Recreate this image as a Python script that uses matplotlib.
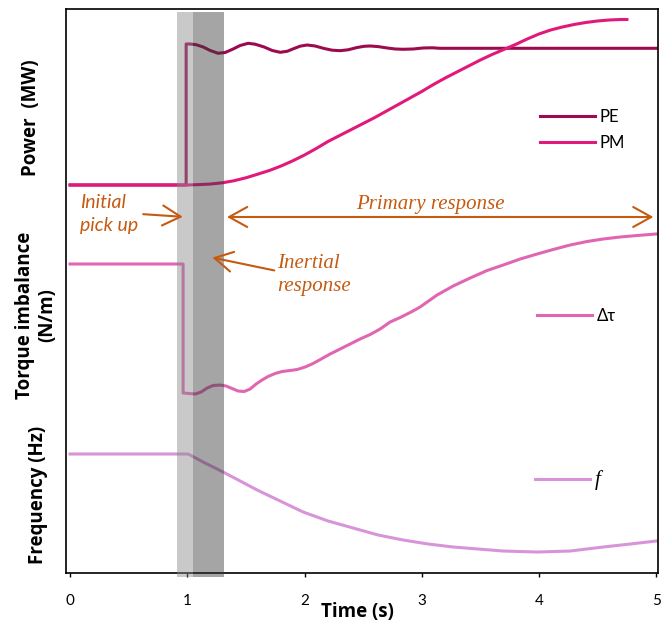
import matplotlib
matplotlib.use("Agg")
import matplotlib.pyplot as plt

plt.rcParams["font.family"] = ["Lato", "DejaVu Sans"]

# Datos (unidades arbitrarias, las tres curvas apiladas en un mismo eje)
t_pe = [0.0, 0.99, 0.99, 1.024, 1.075, 1.135, 1.195, 1.263, 1.323, 1.391, 1.451,
        1.519, 1.578, 1.655, 1.724, 1.792, 1.852, 1.911, 1.962, 2.022, 2.09,
        2.167, 2.235, 2.304, 2.372, 2.449, 2.509, 2.56, 2.628, 2.705, 2.773,
        2.841, 2.927, 3.012, 3.089, 3.157, 3.5, 4.0, 4.5, 5.0]
pe = [388, 388, 529, 529, 528.3, 526, 522.5, 519.7, 520.5, 524, 527.5,
      529.7, 528.8, 526, 522.5, 520.7, 521.7, 524.5, 526.8, 528, 527,
      524.5, 522.8, 522.3, 523.2, 525.5, 526.7, 527, 526.4, 525, 524,
      523.7, 524, 525, 525.2, 524.7, 524.7, 524.7, 524.7, 524.7]

t_pm = [0.0, 1.0, 1.1, 1.2, 1.3, 1.4, 1.5, 1.6, 1.7, 1.8, 1.9, 2.0, 2.1, 2.2,
        2.3, 2.4, 2.5, 2.6, 2.7, 2.8, 2.9, 3.0, 3.1, 3.2, 3.3, 3.4, 3.5, 3.6,
        3.7, 3.8, 3.9, 4.0, 4.1, 4.2, 4.3, 4.4, 4.5, 4.6, 4.7, 4.75]
pm = [388, 388, 388.4, 389, 390.2, 392.3, 395.2, 398.8, 402.5, 407, 412.2,
      418, 424.5, 431.5, 437.5, 443.5, 449.5, 455.5, 462, 468.5, 475, 481.5,
      488.5, 495, 501, 507, 513, 518.5, 523.5, 528.5, 534, 539, 543, 546,
      548.5, 550.5, 552, 553, 553.5, 553.5]

t_tau = [0.0, 0.964, 0.964, 1.067, 1.118, 1.169, 1.220, 1.280, 1.331, 1.382,
         1.433, 1.485, 1.536, 1.587, 1.638, 1.689, 1.749, 1.809, 1.877, 1.937,
         2.005, 2.073, 2.142, 2.218, 2.304, 2.389, 2.474, 2.560, 2.645, 2.730,
         2.816, 2.901, 2.986, 3.131, 3.268, 3.413, 3.558, 3.695, 3.840, 3.985,
         4.121, 4.266, 4.411, 4.548, 4.693, 4.838, 5.0]
tau = [309, 309, 180, 179, 181, 185, 187.5, 188, 187, 184.5,
       182, 181.5, 184, 189, 193, 196.5, 199.5, 201.5, 202.5, 203.5,
       206, 209.5, 214, 219, 224, 229, 234, 238.5, 244, 251,
       255.5, 260.5, 266, 278, 287, 295, 302.5, 308, 314, 319,
       323.5, 328, 331.5, 334, 336, 337.5, 339]

t_f = [0.0, 1.007, 1.135, 1.305, 1.451, 1.596, 1.792, 1.988, 2.201, 2.415,
       2.628, 2.841, 3.055, 3.268, 3.481, 3.695, 3.985, 4.266, 4.548, 4.778, 5.0]
freq = [119, 119, 111, 101, 92, 83, 72, 61, 52, 45,
        38, 33, 29, 26, 24, 22, 21, 22, 26, 29, 32]

c_pe = "#9c0b4f"
c_pm = "#e0197a"
c_tau = "#e066b3"
c_f = "#d894d8"
c_ann = "#c55a11"

fig = plt.figure(figsize=(6.7, 6.24), dpi=100)
ax = fig.add_axes([0.0985, 0.0817, 0.8835, 0.9039])

l_pe, = ax.plot(t_pe, pe, color=c_pe, lw=2.2, label="PE")
l_pm, = ax.plot(t_pm, pm, color=c_pm, lw=2.2, label="PM")
l_tau, = ax.plot(t_tau, tau, color=c_tau, lw=2.2, label="Δτ")
l_f, = ax.plot(t_f, freq, color=c_f, lw=2.2, label="f")

# Bandas grises (encima de las curvas)
ax.axvspan(0.91, 1.05, ymin=-0.007, ymax=0.995, color="#898989", alpha=0.45,
           lw=0, zorder=5, clip_on=False)
ax.axvspan(1.05, 1.31, ymin=-0.007, ymax=0.995, color="#393939", alpha=0.45,
           lw=0, zorder=5, clip_on=False)

ax.set_xlim(-0.035, 5.015)
ax.set_ylim(0, 564)
ax.set_yticks([])
ax.set_xticks([0, 1, 2, 3, 4, 5])
ax.tick_params(axis="x", direction="out", length=3, width=1, pad=12, labelsize=11)
for s in ax.spines.values():
    s.set_linewidth(1.2)

# Leyendas
kw = dict(frameon=False, borderpad=0, borderaxespad=0, handlelength=3.3,
          handletextpad=0.3, fontsize=12, loc="center left")
leg1 = ax.legend(handles=[l_pe, l_pm], bbox_to_anchor=(0.80, 0.7855), labelspacing=0.6, **kw)
ax.add_artist(leg1)
leg2 = ax.legend(handles=[l_tau], bbox_to_anchor=(0.796, 0.4557), **kw)
ax.add_artist(leg2)
leg3 = ax.legend(handles=[l_f], bbox_to_anchor=(0.792, 0.165), **kw)
for txt in leg3.get_texts():
    txt.set_fontfamily("Liberation Serif")
    txt.set_fontstyle("italic")
    txt.set_fontsize(15)

# Anotaciones
head = "->,head_length=0.65,head_width=0.36"
arrow = dict(arrowstyle=head, color=c_ann, lw=1.5, mutation_scale=20)
ax.annotate("", xy=(0.985, 356), xytext=(0.60, 359), arrowprops=arrow, zorder=6)
ax.text(0.085, 359, "Initial\npick up", color=c_ann, fontsize=14, style="italic",
        ha="left", va="center", linespacing=1.45)
ax.annotate("", xy=(1.315, 356), xytext=(5.0, 356),
            arrowprops=dict(arrowstyle="<->,head_length=0.65,head_width=0.36",
                            color=c_ann, lw=1.5, mutation_scale=20),
            zorder=6)
ax.text(3.07, 368, "Primary response", color=c_ann, fontsize=15, style="italic",
        family="Liberation Serif", ha="center", va="center")
ax.annotate("", xy=(1.19, 316), xytext=(1.765, 302), arrowprops=arrow, zorder=6)
ax.text(1.77, 298, "Inertial\nresponse", color=c_ann, fontsize=15, style="italic",
        family="Liberation Serif", ha="left", va="center", linespacing=1.3)

# Etiquetas de los ejes
lab = dict(rotation=90, fontsize=13.5, fontweight="bold", ha="center", va="center",
           family=["Open Sans", "DejaVu Sans"])
fig.text(31 / 670, 1 - 118 / 624, "Power  (MW)", **lab)
fig.text(36 / 670, 1 - 315 / 624, "Torque imbalance\n(N/m)", linespacing=1.1, **lab)
fig.text(38 / 670, 1 - 495 / 624, "Frequency (Hz)", **lab)
fig.text(357 / 670, 1 - 612 / 624, "Time (s)", fontsize=13.5, fontweight="bold",
         family=["Open Sans", "DejaVu Sans"], ha="center", va="center")

fig.savefig("out.png", dpi=100)
